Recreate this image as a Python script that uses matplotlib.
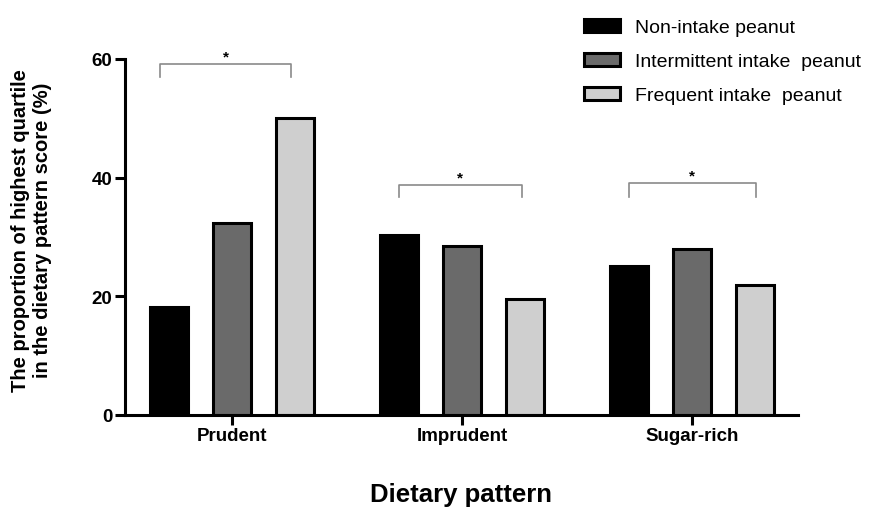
import matplotlib.pyplot as plt
import numpy as np

plt.rcParams['font.family'] = ['Liberation Sans', 'DejaVu Sans']

# Data.
patterns = ['Prudent', 'Imprudent', 'Sugar-rich']
groups = ['Non-intake peanut', 'Intermittent intake  peanut', 'Frequent intake  peanut']
non_intake = [18.1, 30.3, 25.0]
intermittent = [32.4, 28.4, 27.9]
frequent = [50.0, 19.5, 21.9]
colors = ['#000000', '#6a6a6a', '#cfcfcf']

# Significance brackets: (left, right, height, foot height)
brackets = [(-0.313, 0.257, 59.2, 57.0),
            (0.726, 1.261, 38.8, 36.7),
            (1.726, 2.278, 39.1, 36.7)]

fig = plt.figure(figsize=(8.85, 5.1), dpi=100)
ax = fig.add_axes([125 / 885, 1 - 415.7 / 510, (798 - 125) / 885, (415.7 - 60) / 510])

x = np.arange(len(patterns))
offset = 0.274
width = 0.168
for i, (vals, color, label) in enumerate(zip([non_intake, intermittent, frequent], colors, groups)):
    ax.bar(x + (i - 1) * offset, vals, width, color=color, edgecolor='black',
           linewidth=2.2, label=label, zorder=2)

# Significance brackets with stars.
for left, right, top, foot in brackets:
    ax.plot([left, left, right, right], [foot, top, top, foot],
            color='#8a8a8a', linewidth=1.2, clip_on=False)
    ax.text((left + right) / 2, top + 0.1, '*', ha='center', va='bottom',
            fontsize=11, fontweight='bold', clip_on=False)

ax.set_xlim(-0.465, 2.461)
ax.set_ylim(0, 60)
ax.set_yticks([0, 20, 40, 60])
ax.set_xticks(x)
ax.set_xticklabels(patterns)

for side in ['top', 'right']:
    ax.spines[side].set_visible(False)
for side in ['left', 'bottom']:
    ax.spines[side].set_linewidth(2.2)

ax.tick_params(axis='both', direction='out', length=7, width=2.2,
               labelsize=13.5, pad=2)
for lbl in ax.get_xticklabels() + ax.get_yticklabels():
    lbl.set_fontweight('bold')

ax.set_ylabel('The proportion of highest quartile\nin the dietary pattern score (%)',
              fontsize=14.5, fontweight='bold')
ax.yaxis.set_label_coords(-0.108, 0.52)
ax.set_xlabel('Dietary pattern', fontsize=18.5, fontweight='bold', labelpad=27)

fig.legend(loc='upper left', bbox_to_anchor=(584 / 885, 1 - 19.5 / 510),
           frameon=False, fontsize=14, handlelength=1.85, handleheight=0.7,
           handletextpad=0.75, labelspacing=0.85, borderpad=0, borderaxespad=0)

fig.savefig('out.png', dpi=100)
